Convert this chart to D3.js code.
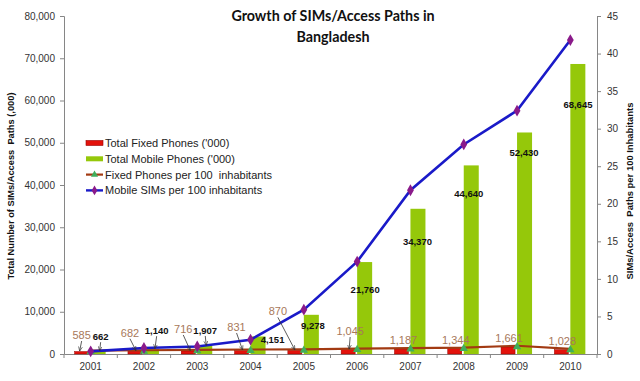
<!DOCTYPE html>
<html><head><meta charset="utf-8">
<script src="https://cdn.jsdelivr.net/npm/d3@7/dist/d3.min.js"></script>
<style>body{margin:0;background:#fff}svg{display:block}</style>
</head><body>
<svg id="c" width="640" height="381"></svg>
<script>
const years = ["2001","2002","2003","2004","2005","2006","2007","2008","2009","2010"];
const fixedPhones = [585, 682, 716, 831, 870, 1045, 1187, 1344, 1661, 1028];
const mobilePhones = [662, 1140, 1907, 4151, 9278, 21760, 34370, 44640, 52430, 68645];
const fixedPer100 = [0.45, 0.5, 0.55, 0.6, 0.62, 0.72, 0.78, 0.85, 1.1, 0.68];
const mobilePer100 = [0.35, 0.8, 1.0, 1.9, 5.9, 12.3, 21.8, 27.9, 32.4, 41.8];
const leftTicks = [0,10000,20000,30000,40000,50000,60000,70000,80000];
const rightTicks = [0,5,10,15,20,25,30,35,40,45];
const legendLabels = ["Total Fixed Phones ('000)","Total Mobile Phones ('000)","Fixed Phones per 100  inhabitants","Mobile SIMs per 100 inhabitants"];

const svg = d3.select("#c");
const L = 64, R = 597, T = 16, B = 354;
const x = d3.scaleBand().domain(years).range([L, R]);
const yL = d3.scaleLinear().domain([0, 80000]).range([B, T]);
const yR = d3.scaleLinear().domain([0, 45]).range([B, T]);
const fmt = d3.format(",");
const cx = d => x(d) + x.bandwidth()/2;
const font = "Liberation Sans, Arial, sans-serif";

// axes
const gL = svg.append("g").attr("transform", `translate(${L},0)`)
  .call(d3.axisLeft(yL).tickValues(leftTicks).tickFormat(fmt).tickSize(4).tickPadding(5));
const gR = svg.append("g").attr("transform", `translate(${R},0)`)
  .call(d3.axisRight(yR).tickValues(rightTicks).tickSize(4).tickPadding(6));
[gL, gR].forEach(g => {
  g.select(".domain").attr("stroke", "#868686");
  g.selectAll(".tick line").attr("stroke", "#868686");
  g.selectAll("text").attr("font-family", font).attr("font-size", 10).attr("fill", "#333");
});
const gX = svg.append("g").attr("transform", `translate(0,${B})`)
  .call(d3.axisBottom(x).tickSize(0).tickPadding(9));
gX.select(".domain").attr("stroke", "#868686");
gX.selectAll("text").attr("font-family", font).attr("font-size", 10).attr("fill", "#333");
svg.append("g").selectAll("line").data(years.concat(["end"])).join("line")
  .attr("x1", (d,i) => L + i*x.step()).attr("x2", (d,i) => L + i*x.step())
  .attr("y1", B).attr("y2", B + 4).attr("stroke", "#868686");

// bars
const bw = 15;
svg.append("g").selectAll("rect").data(fixedPhones).join("rect")
  .attr("x", (d,i) => cx(years[i]) - bw - 1).attr("width", bw - 1)
  .attr("y", d => yL(d)).attr("height", d => B - yL(d))
  .attr("fill", "#e3120b").attr("stroke", "#9a0000").attr("stroke-width", 0.5);
svg.append("g").selectAll("rect").data(mobilePhones).join("rect")
  .attr("x", (d,i) => cx(years[i])).attr("width", bw)
  .attr("y", d => yL(d)).attr("height", d => B - yL(d))
  .attr("fill", "#95c80a");

// lines
const lineF = d3.line().x((d,i) => cx(years[i])).y(d => yR(d));
svg.append("path").datum(fixedPer100).attr("d", lineF)
  .attr("fill", "none").attr("stroke", "#a23a12").attr("stroke-width", 2.2);
svg.append("g").selectAll("path").data(fixedPer100).join("path")
  .attr("d", d3.symbol(d3.symbolTriangle, 30))
  .attr("transform", (d,i) => `translate(${cx(years[i])},${yR(d)+1})`)
  .attr("fill", "#3fae5c");
const lineM = d3.line().x((d,i) => cx(years[i])).y(d => yR(d));
svg.append("path").datum(mobilePer100).attr("d", lineM)
  .attr("fill", "none").attr("stroke", "#1a1ac8").attr("stroke-width", 2.6);
svg.append("g").selectAll("path").data(mobilePer100).join("path")
  .attr("d", d3.symbol(d3.symbolDiamond, 40))
  .attr("transform", (d,i) => `translate(${cx(years[i])},${yR(d)})`)
  .attr("fill", "#8a1a8a");

// arrow marker
const defs = svg.append("defs");
defs.append("marker").attr("id","ah").attr("viewBox","0 0 10 10").attr("refX",9).attr("refY",5)
  .attr("markerWidth",6).attr("markerHeight",6).attr("orient","auto")
  .append("path").attr("d","M0,1 L9,5 L0,9").attr("fill","none").attr("stroke","#333").attr("stroke-width",1.3);

// label layout (offsets relative to band centre / bar top)
const fixLabelDx = [-9, -14, -14, -14, -26, -7, -7, -8, -8, -8];
const fixLabelDy = [-12.5, -14.4, -18, -19.5, -35, -14.6, -5, -4.3, -5.3, -4.7];
const fixArrowDx = [-11, -8, -7, -8, -9, -8, null, null, null, null];
const mobLabelDx = [10, 12.7, 8, 22, 9, 8, 7, 5, 7, 7.6];
const mobLabelDy = [-11, -15, -12, 7, 14.5, 30.5, 36.5, 32, 24, 44];
const mobArrowDx = [9, 11, 9, null, null, null, null, null, null, null];

const gA = svg.append("g");
fixedPhones.forEach((v,i) => {
  const c = cx(years[i]);
  const lx = c + fixLabelDx[i], ly = yL(v) + fixLabelDy[i];
  svg.append("text").attr("x", lx).attr("y", ly).attr("text-anchor","middle")
    .attr("font-family", font).attr("font-size", 11).attr("fill", "#a7785a").text(fmt(v));
  if (fixArrowDx[i] !== null) {
    gA.append("line").attr("x1", lx).attr("y1", ly + 2)
      .attr("x2", c + fixArrowDx[i]).attr("y2", yL(v) - 0.5)
      .attr("stroke","#333").attr("stroke-width",0.8).attr("marker-end","url(#ah)");
  }
});
mobilePhones.forEach((v,i) => {
  const c = cx(years[i]);
  const top = yL(v);
  const lx = c + mobLabelDx[i], ly = top + mobLabelDy[i];
  svg.append("text").attr("x", lx).attr("y", ly).attr("text-anchor","middle")
    .attr("font-family", font).attr("font-size", 9.5).attr("font-weight","bold")
    .attr("fill", "#111").text(fmt(v));
  if (mobArrowDx[i] !== null) {
    gA.append("line").attr("x1", lx).attr("y1", ly + 2)
      .attr("x2", c + mobArrowDx[i]).attr("y2", top - 0.5)
      .attr("stroke","#333").attr("stroke-width",0.8).attr("marker-end","url(#ah)");
  }
});

// title
const title = svg.append("text").attr("text-anchor","middle").attr("font-family","Lato, Open Sans, sans-serif")
  .attr("font-weight","bold").attr("font-size",14.3).attr("fill","#111");
title.append("tspan").attr("x", 333).attr("y", 21).text("Growth of SIMs/Access Paths in");
title.append("tspan").attr("x", 333).attr("y", 42).text("Bangladesh");

// axis titles
svg.append("text").attr("transform","translate(14,186) rotate(-90)").attr("text-anchor","middle")
  .attr("font-family", font).attr("font-size", 8.5).attr("font-weight","bold").attr("fill","#111")
  .attr("textLength", 187).attr("lengthAdjust","spacingAndGlyphs")
  .style("white-space","pre").text("Total Number of SIMs/Access  Paths (,000)");
svg.append("text").attr("transform","translate(633,191) rotate(-90)").attr("text-anchor","middle")
  .attr("font-family", font).attr("font-size", 8.5).attr("font-weight","bold").attr("fill","#111")
  .attr("textLength", 177).attr("lengthAdjust","spacingAndGlyphs")
  .style("white-space","pre").text("SIMs/Access  Paths per 100 Inhabitants");

// legend
const lg = svg.append("g").attr("transform","translate(86,143)");
const rowH = 15.8;
legendLabels.forEach((t,i) => {
  const g = lg.append("g").attr("transform", `translate(0,${i*rowH})`);
  if (i === 0) g.append("rect").attr("x",0).attr("y",-2.5).attr("width",17).attr("height",5).attr("fill","#e3120b").attr("stroke","#9a0000").attr("stroke-width",0.6);
  if (i === 1) g.append("rect").attr("x",0).attr("y",-2.5).attr("width",17).attr("height",5).attr("fill","#95c80a");
  if (i === 2) {
    g.append("line").attr("x1",0).attr("x2",17).attr("stroke","#a23a12").attr("stroke-width",2.2);
    g.append("path").attr("d", d3.symbol(d3.symbolTriangle, 22)).attr("transform","translate(8.5,0)").attr("fill","#3fae5c");
  }
  if (i === 3) {
    g.append("line").attr("x1",0).attr("x2",17).attr("stroke","#1a1ac8").attr("stroke-width",2.4);
    g.append("path").attr("d", d3.symbol(d3.symbolDiamond, 28)).attr("transform","translate(8.5,0)").attr("fill","#8a1a8a");
  }
  g.append("text").attr("x",19).attr("y",4).attr("font-family",font).attr("font-size",11)
    .attr("fill","#222").style("white-space","pre").text(t);
});
</script>
</body></html>
